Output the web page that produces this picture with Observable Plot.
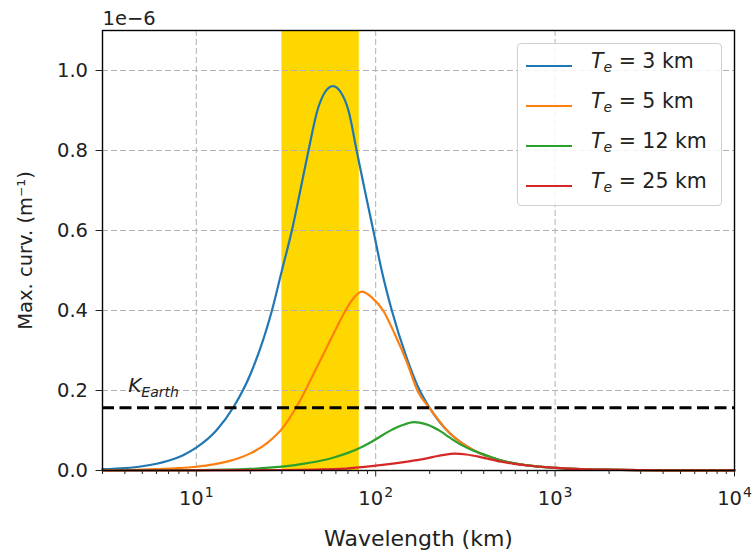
<!DOCTYPE html>
<html>
<head>
<meta charset="utf-8">
<script src="https://cdn.jsdelivr.net/npm/d3@7"></script>
<script src="https://cdn.jsdelivr.net/npm/@observablehq/plot@0.6"></script>
<style>
  html, body { margin: 0; padding: 0; background: white; }
  #wrap { position: relative; width: 753px; height: 557px; font-family: "DejaVu Sans", sans-serif; }
  #legend { position: absolute; left: 517px; top: 43px; width: 205px; height: 163px; box-sizing: border-box;
    border: 1px solid #d0d0d0; border-radius: 4px; background: rgba(255,255,255,0.85); }
  .item { position: absolute; left: 8px; height: 20px; }
  .item .sw { position: absolute; left: 0; top: 9px; width: 46px; height: 2px; }
  .item .lab { position: absolute; left: 65px; top: -7px; font-size: 20.5px; color: #222; white-space: nowrap; }
  .item .lab sub { font-size: 14px; font-style: italic; vertical-align: -4px; }
</style>
</head>
<body>
<div id="wrap"><div id="legend"></div></div>
<script>
// Te values and colours
const teLabels = ["3", "5", "12", "25"];
const colors = ["#1f77b4", "#ff7f0e", "#2ca02c", "#d62728"];

// Wavelength (km) and max curvature (×1e-6 m^-1)
const wlBlue = [3,4,5,6.9,8.5,10,13,16.1,20,26.4,30,34.1,38,42.2,47.3,52,57.7,64,70.5,78.3,87,97,108,123,148,176,199,259,300,349,492,700,1000,1400,1860,3000,5000,10000];
const valBlue = [0.0032,0.0061,0.0107,0.0236,0.0389,0.057,0.101,0.158,0.24,0.40,0.50,0.60,0.70,0.80,0.90,0.945,0.961,0.945,0.90,0.80,0.70,0.60,0.50,0.40,0.285,0.20,0.158,0.093,0.0695,0.0514,0.0259,0.0128,0.0065,0.0034,0.002,0.0008,0.0003,0.0001];

const wlOrange = [3,4.5,6,8,10,12.5,15,17.5,20,25,30,35,40,46,52.3,59.4,66,75,83.6,95,110,128,148,172,199,259,300,349,492,700,1000,1400,1860,3000,5000,10000];
const valOrange = [0.0006,0.0017,0.0033,0.0058,0.0093,0.0152,0.0228,0.0319,0.0428,0.0699,0.104,0.148,0.195,0.25,0.30,0.35,0.39,0.43,0.447,0.433,0.40,0.34,0.275,0.197,0.157,0.093,0.0695,0.0514,0.0259,0.0128,0.0065,0.0034,0.002,0.0008,0.0003,0.0001];

const wlGreen = [3,10,20,30,40,50,57.8,70,82,95,106,120,140,163,190,228,259,300,349,397,492,700,1000,1400,1860,3000,5000,10000];
const valGreen = [0.0001,0.001,0.004,0.0095,0.017,0.025,0.032,0.044,0.057,0.072,0.085,0.099,0.113,0.121,0.116,0.099,0.082,0.064,0.05,0.041,0.0259,0.0128,0.0065,0.0034,0.002,0.0008,0.0003,0.0001];

const wlRed = [3,10,30,63,100,150,176,210,240,275,320,380,415,500,581,700,1000,1400,1860,3000,5000,10000];
const valRed = [0,0.0003,0.0012,0.004,0.012,0.022,0.027,0.034,0.039,0.042,0.040,0.034,0.030,0.022,0.017,0.0125,0.0065,0.0034,0.002,0.0008,0.0003,0.0001];

// Reference curvature and highlighted band
const kEarth = [0.157];
const bandLo = [30];
const bandHi = [81];

// Ticks
const xMajor = [10, 100, 1000, 10000];
const xMajorExp = ["1", "2", "3", "4"];
const xMinor = [];
for (const d of [1, 10, 100, 1000]) for (let k = 2; k <= 9; k++) if (d * k >= 3) xMinor.push(d * k);
const yTicks = [0, 0.2, 0.4, 0.6, 0.8, 1.0];

const wls = [wlBlue, wlOrange, wlGreen, wlRed];
const vals = [valBlue, valOrange, valGreen, valRed];
const rows = [];
wls.forEach((w, i) => w.forEach((x, j) => rows.push({series: i, wl: x, v: vals[i][j]})));
const band = bandLo.map((lo, i) => ({lo, hi: bandHi[i]}));

const gridStyle = {stroke: "#b0b0b0", strokeOpacity: 1, strokeWidth: 1, strokeDasharray: "6,3"};

const chart = Plot.plot({
  width: 753,
  height: 557,
  marginLeft: 102,
  marginRight: 19,
  marginTop: 30,
  marginBottom: 87,
  style: {fontFamily: "DejaVu Sans, sans-serif", fontSize: "19.5px", color: "#222", background: "white", overflow: "visible"},
  x: {type: "log", domain: [3, 10000]},
  y: {domain: [0, 1.1]},
  marks: [
    Plot.rect(band, {x1: "lo", x2: "hi", fill: "#FFD700"}),
    Plot.gridX(xMajor.slice(0, 3), gridStyle),
    Plot.gridY(yTicks.slice(1), gridStyle),
    ...[0, 1, 2, 3].map(i => Plot.line(rows.filter(r => r.series === i), {
      x: "wl", y: "v", stroke: colors[i], strokeWidth: 2.2, curve: "monotone-x"
    })),
    Plot.ruleY(kEarth, {stroke: "black", strokeWidth: 3, strokeDasharray: "12,5.5"}),
    Plot.text([{x: 4.17, y: 0.196}], {x: "x", y: "y", text: () => "K", textAnchor: "start", lineAnchor: "bottom",
      fontSize: 20, fill: "#222", className: "kearth"}),
    Plot.frame({stroke: "black", strokeWidth: 1.4}),
    Plot.axisX(xMajor, {tickSize: 6.5, tickPadding: 14, tickFormat: d => "10", label: null, fontSize: 19.5, className: "xmaj"}),
    Plot.axisX(xMinor, {tickSize: 4, tickFormat: () => "", label: null}),
    Plot.axisY(yTicks, {tickSize: 6.5, tickPadding: 8, tickFormat: d => d.toFixed(1), label: null, fontSize: 19.5}),
    Plot.text(["Wavelength (km)"], {frameAnchor: "bottom", dy: 75, lineAnchor: "bottom", fontSize: 22, fill: "#222"}),
    Plot.text(["Max. curv. (m⁻¹)"], {frameAnchor: "left", dx: -77, rotate: -90, textAnchor: "middle", lineAnchor: "middle", fontSize: 19.5, fill: "#222"}),
    Plot.text(["1e−6"], {frameAnchor: "top-left", textAnchor: "start", lineAnchor: "bottom", dy: -6, fontSize: 19.5, fill: "#222"})
  ]
});
document.getElementById("wrap").prepend(chart);

// Superscript exponents on the x tick labels
d3.select(chart).selectAll("g.xmaj text").each(function(d, i) {
  const t = d3.select(this);
  t.append("tspan").attr("font-size", 14).attr("dy", "-0.55em").attr("dx", 1).text(xMajorExp[i]);
});

// K_Earth label with subscript
const kt = d3.select(chart).select("g.kearth text");
kt.text(null);
kt.append("tspan").attr("font-style", "italic").text("K");
kt.append("tspan").attr("font-style", "italic").attr("font-size", 14).attr("dy", 5).text("Earth");

// Legend
const legend = document.getElementById("legend");
teLabels.forEach((t, i) => {
  const it = document.createElement("div");
  it.className = "item";
  it.style.top = (12 + 40 * i) + "px";
  it.innerHTML = `<div class="sw" style="background:${colors[i]}"></div><div class="lab"><i>T</i><sub>e</sub> = ${t} km</div>`;
  legend.appendChild(it);
});
</script>
</body>
</html>
